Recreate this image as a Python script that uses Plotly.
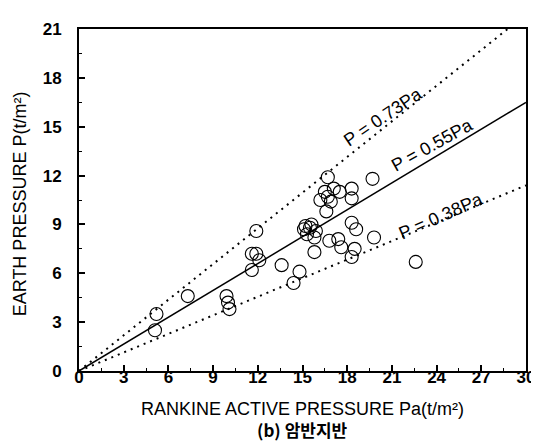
import plotly.graph_objects as go

# measured data: Rankine active pressure Pa vs earth pressure P (t/m2)
pa_vals = [5.2, 5.1, 7.3, 9.9, 10.0, 10.1, 11.9, 11.6, 11.9, 11.6, 12.1, 13.6,
           14.8, 14.4, 15.1, 15.2, 15.6, 15.9, 15.3, 15.8, 15.5, 15.8, 16.8,
           17.4, 17.6, 18.5, 18.3, 18.3, 18.6, 19.8, 16.7, 16.5, 16.7, 16.6,
           17.5, 18.3, 18.3, 16.9, 19.7, 22.6, 16.2, 17.1]
p_vals = [3.5, 2.5, 4.6, 4.6, 4.2, 3.8, 8.6, 7.2, 7.2, 6.2, 6.8, 6.5,
          6.1, 5.4, 8.7, 8.9, 9.0, 8.6, 8.4, 8.2, 8.8, 7.3, 8.0,
          8.1, 7.6, 7.5, 7.0, 9.1, 8.7, 8.2, 11.9, 11.0, 10.7, 9.8,
          11.0, 11.2, 10.6, 10.4, 11.8, 6.7, 10.5, 11.2]

line_coefs = [0.73, 0.55, 0.38]
line_labels = ["P = 0.73Pa", "P = 0.55Pa", "P = 0.38Pa"]
line_dashes = ["2px,5px", "solid", "2px,5px"]
label_x = [20.4, 23.7, 24.3]
label_y = [15.6, 13.9, 9.5]
label_angle = [-34, -29, -24]

x_ticks = list(range(0, 31, 3))
y_ticks = list(range(0, 22, 3))

fig = go.Figure()
x_end = 30
for c, dash in zip(line_coefs, line_dashes):
    xe = min(x_end, 21 / c)
    fig.add_trace(go.Scatter(x=[0, xe], y=[0, c * xe], mode="lines",
                             line=dict(color="black", width=1.5 if dash == "solid" else 2, dash=dash),
                             showlegend=False, hoverinfo="skip"))

fig.add_trace(go.Scatter(x=pa_vals, y=p_vals, mode="markers",
                         marker=dict(symbol="circle-open", size=13, color="black",
                                     line=dict(width=1.1, color="black")),
                         showlegend=False))

for t, lx, ly, ang in zip(line_labels, label_x, label_y, label_angle):
    fig.add_annotation(x=lx, y=ly, text=t, showarrow=False, textangle=ang,
                       font=dict(family="Arial", size=18, color="black"))

fig.add_annotation(x=0.5, y=-0.112, xref="paper", yref="paper", showarrow=False,
                   text="RANKINE ACTIVE PRESSURE Pa(t/m²)", xanchor="center", yanchor="middle",
                   font=dict(family="Arial", size=18, color="black"))
fig.add_annotation(x=0.5, y=-0.172, xref="paper", yref="paper", showarrow=False,
                   text="(b) 암반지반", xanchor="center", yanchor="middle",
                   font=dict(family="Noto Sans CJK KR", size=17, color="black", weight="bold"))
fig.add_annotation(x=-0.13, y=0.49, xref="paper", yref="paper", showarrow=False,
                   text="EARTH PRESSURE P(t/m²)", textangle=-90, xanchor="center", yanchor="middle",
                   font=dict(family="Arial", size=18, color="black"))

axis_common = dict(showgrid=False, zeroline=False, showline=True, linecolor="black",
                   linewidth=2, mirror=True, ticks="inside", ticklen=6, tickwidth=1.5,
                   tickcolor="black",
                   tickfont=dict(family="Arial", size=17, color="black", weight="bold"),
                   minor=dict(ticks="inside", ticklen=3, tickwidth=1, tickcolor="black", dtick=1.5))

fig.update_xaxes(range=[0, 30], tickvals=x_ticks, ticktext=[str(v) for v in x_ticks],
                 ticklabelstandoff=-10, **axis_common)
fig.update_yaxes(range=[0, 21], tickvals=y_ticks, ticktext=[str(v) for v in y_ticks],
                 ticklabelstandoff=12, **axis_common)

fig.update_layout(width=539, height=444, margin=dict(l=71, r=18, t=15, b=81),
                  plot_bgcolor="white", paper_bgcolor="white")

fig.write_html("out.html")
